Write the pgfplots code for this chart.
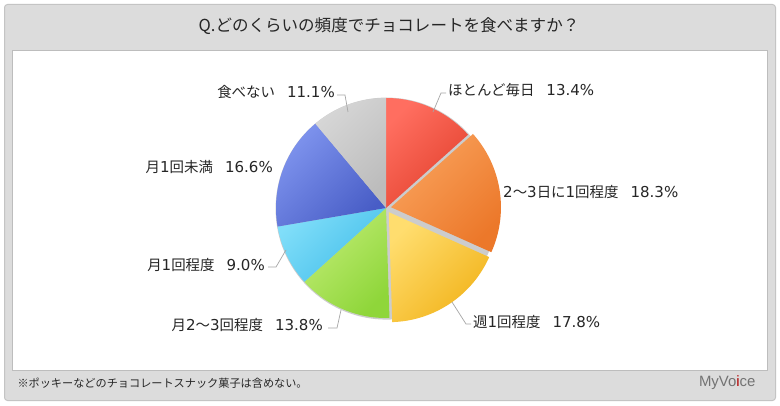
\documentclass[border=0pt]{standalone}
\usepackage{fontspec}
\setmainfont{Noto Sans CJK JP}
\newfontfamily\logofont{Liberation Sans}
\newfontfamily\num{DejaVu Sans}[Scale=1.04]
\usepackage{pgfplots}
\pgfplotsset{compat=1.18}
\definecolor{bandgray}{HTML}{DCDCDC}
\definecolor{frameborder}{HTML}{C4C4C4}
\definecolor{panelborder}{HTML}{BDBDBD}
\definecolor{txt}{HTML}{262626}
\definecolor{leader}{HTML}{A6A6A6}
\definecolor{redL}{HTML}{FF6E60}\definecolor{redD}{HTML}{E3412D}
\definecolor{oraL}{HTML}{F9A25C}\definecolor{oraD}{HTML}{EC782A}
\definecolor{yelL}{HTML}{FFDD6E}\definecolor{yelD}{HTML}{F2B41C}
\definecolor{greL}{HTML}{C0EC74}\definecolor{greD}{HTML}{8FD63A}
\definecolor{cyaL}{HTML}{80DEF9}\definecolor{cyaD}{HTML}{44BEEA}
\definecolor{bluL}{HTML}{7F94EE}\definecolor{bluD}{HTML}{485DC6}
\definecolor{gryL}{HTML}{D6D6D6}\definecolor{gryD}{HTML}{BCBCBC}
% #1 start (cumulative %), #2 end (cumulative %), #3 cx, #4 cy, #5 light, #6 dark
\newcommand{\slice}[6]{%
  \addplot[draw=none, top color=#5, bottom color=#6, shading angle=45,
    domain={3.6*#1}:{3.6*#2}, samples=80, variable=\t]
    ({#3+110*sin(\t)}, {#4+110*cos(\t)}) -- (axis cs:#3,#4) -- cycle;
}
\newcommand{\gap}{\hspace{12bp}}
\begin{document}
\begin{tikzpicture}
\begin{axis}[
  width=780bp, height=405bp, scale only axis,
  xmin=0, xmax=780, ymin=0, ymax=405,
  hide axis, clip=false,
]
% frame
\fill[white] (axis cs:0,0) rectangle (axis cs:780,405);
\draw[frameborder, fill=bandgray, line width=1bp, rounded corners=3bp] (axis cs:4.5,4.5) rectangle (axis cs:775.5,400.5);
\draw[panelborder, fill=white, line width=0.8bp] (axis cs:12,35) rectangle (axis cs:767,355);
% title and footer
\node[text=txt, font=\fontsize{16.6}{18}\selectfont] at (axis cs:389,379) {Q.どのくらいの頻度でチョコレートを食べますか？};
\node[anchor=west, text=txt, font=\fontsize{11.2}{13}\selectfont] at (axis cs:14,22) {※ポッキーなどのチョコレートスナック菓子は含めない。};
\node[anchor=east, text=black!55, font=\logofont\fontsize{15}{17}\selectfont] at (axis cs:759,22) {MyVo{\color{red!70!black}i}ce};
% pie shadow
\fill[black!20] (axis cs:386.6,196.4) circle[radius=111bp];
% slices: values 13.4, 18.3, 17.8, 13.8, 9.0, 16.6, 11.1 (%), clockwise from 12 o'clock
\slice{0}{13.4}{386}{197}{redL}{redD}
\slice{13.4}{31.7}{390.94}{197.77}{oraL}{oraD}
\slice{31.7}{49.5}{388.78}{192.85}{yelL}{yelD}
\slice{49.5}{63.3}{386}{197}{greL}{greD}
\slice{63.3}{72.3}{386}{197}{cyaL}{cyaD}
\slice{72.3}{88.9}{386}{197}{bluL}{bluD}
\slice{88.9}{100}{386}{197}{gryL}{gryD}
% leader lines
\draw[leader, line width=0.7bp] (axis cs:433,293) -- (axis cs:441,312) -- (axis cs:446,312);
\draw[leader, line width=0.7bp] (axis cs:452,103) -- (axis cs:466,81) -- (axis cs:471,81);
\draw[leader, line width=0.7bp] (axis cs:341,95) -- (axis cs:337,77) -- (axis cs:328,77);
\draw[leader, line width=0.7bp] (axis cs:286,155) -- (axis cs:276,138) -- (axis cs:268,138);
\draw[leader, line width=0.7bp] (axis cs:348,293) -- (axis cs:345,310) -- (axis cs:337,310);
% labels
\tikzset{lab/.style={text=txt, font=\fontsize{14.5}{16}\selectfont, inner sep=0pt}}
\node[lab, anchor=west] at (axis cs:448,315) {ほとんど毎日\gap{\num 13.4\%}};
\node[lab, anchor=west] at (axis cs:503,213) {{\num 2}～{\num 3}日に{\num 1}回程度\gap{\num 18.3\%}};
\node[lab, anchor=west] at (axis cs:473,83) {週{\num 1}回程度\gap{\num 17.8\%}};
\node[lab, anchor=east] at (axis cs:323,80) {月{\num 2}～{\num 3}回程度\gap{\num 13.8\%}};
\node[lab, anchor=east] at (axis cs:265,140) {月{\num 1}回程度\gap{\num 9.0\%}};
\node[lab, anchor=east] at (axis cs:273,238) {月{\num 1}回未満\gap{\num 16.6\%}};
\node[lab, anchor=east] at (axis cs:335,313) {食べない\gap{\num 11.1\%}};
\end{axis}
\end{tikzpicture}
\end{document}
